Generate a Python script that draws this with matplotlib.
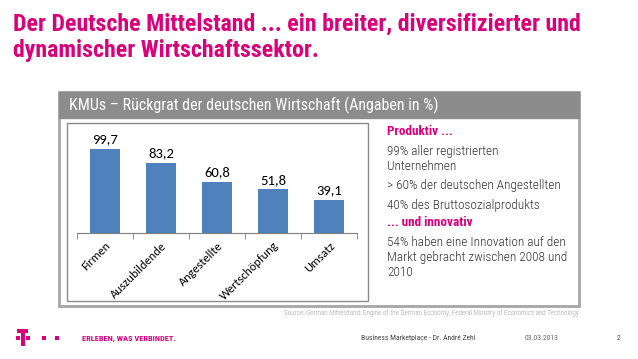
import matplotlib.pyplot as plt
from matplotlib.patches import Rectangle

categories = ['Firmen', 'Auszubildende', 'Angestellte', 'Wertschöpfung', 'Umsatz']
values = [99.7, 83.2, 60.8, 51.8, 39.1]
value_labels = ['99,7', '83,2', '60,8', '51,8', '39,1']

title = 'Der Deutsche Mittelstand ... ein breiter, diversifizierter und\ndynamischer Wirtschaftssektor.'
box_title = 'KMUs – Rückgrat der deutschen Wirtschaft (Angaben in %)'
side_text = [
    ('Produktiv ...', True),
    ('99% aller registrierten', False),
    ('Unternehmen', False),
    ('> 60% der deutschen Angestellten', False),
    ('40% des Bruttosozialprodukts', False),
    ('... und innovativ', True),
    ('54% haben eine Innovation auf den', False),
    ('Markt gebracht zwischen 2008 und', False),
    ('2010', False),
]
side_y = [131, 151, 166, 186, 205, 223, 243, 258, 273]
source = 'Source: German Mittelstand: Engine of the German Economy, Federal Ministry of Economics and Technology'

MAGENTA = '#D9007A'
BLUE = '#4F81BD'
W, H = 638, 359
COND = 'Roboto Condensed'


def fx(x):
    return x / W


def fy(y):
    return 1 - y / H


def box(x0, y0, x1, y1, **kw):
    # rectangle given in pixel coords from top-left
    fig.patches.append(Rectangle((fx(x0), fy(y1)), fx(x1 - x0), (y1 - y0) / H,
                                 transform=fig.transFigure, **kw))


fig = plt.figure(figsize=(6.38, 3.59), dpi=100)

# title
fig.text(fx(13), fy(13), title, color=MAGENTA, fontsize=17.2, fontweight='bold',
         family=COND, va='top', ha='left', linespacing=1.15)

# outer frame + header band
box(59, 92, 579, 306, facecolor='white', edgecolor='#A6A6A6', lw=2, zorder=0)
box(59, 92, 579, 118, facecolor='#8C8C8C', edgecolor='#8C8C8C', lw=1, zorder=0)
fig.text(fx(69), fy(105), box_title, color='white', fontsize=11.5, family=COND, va='center')

# inner chart box
box(67, 123, 368, 301, facecolor='white', edgecolor='#8A8A8A', lw=1, zorder=0)

# bar chart
ax = fig.add_axes([fx(77), fy(233), fx(280), (233 - 130) / H])
ax.set_zorder(2)
x = range(len(categories))
bars = ax.bar(x, values, width=0.53, color=BLUE)
for b, lab in zip(bars, value_labels):
    ax.text(b.get_x() + b.get_width() / 2, b.get_height() + 4, lab, ha='center', va='bottom',
            fontsize=10.5, family='Carlito')
ax.set_xlim(-0.5, 4.5)
ax.set_ylim(0, 122)
ax.set_xticks(list(x))
ax.set_xticklabels(categories, rotation=45, ha='right', rotation_mode='anchor',
                   fontsize=8.8, family='Carlito')
ax.set_xticks([i - 0.5 for i in range(len(categories) + 1)], minor=True)
ax.tick_params(axis='x', which='major', length=0, pad=5)
ax.tick_params(axis='x', which='minor', length=4, color='#7F7F7F')
ax.set_yticks([])
for s in ['top', 'right', 'left']:
    ax.spines[s].set_visible(False)
ax.spines['bottom'].set_color('#7F7F7F')
ax.patch.set_alpha(0)

# side text
for (txt, bold), y in zip(side_text, side_y):
    fig.text(fx(387), fy(y), txt, fontsize=9.5, family=COND, va='center',
             color=MAGENTA if bold else '#333333', fontweight='bold' if bold else 300)

fig.text(fx(579), fy(313), source, fontsize=5, color='#9A9A9A', ha='right', va='center',
         family=COND, fontweight=300)

# footer: logo
box(17, 329, 28, 333, facecolor=MAGENTA, edgecolor='none')
box(20.5, 329, 24.5, 346, facecolor=MAGENTA, edgecolor='none')
for sx in [16, 26, 42, 55]:
    box(sx, 336, sx + 3.5, 339.5, facecolor=MAGENTA, edgecolor='none')
fig.text(fx(82), fy(338), 'ERLEBEN, WAS VERBINDET.', fontsize=6, fontweight='bold', color=MAGENTA,
         va='center', family=COND)
fig.text(fx(361), fy(338), 'Business Marketplace - Dr. André Zehl', fontsize=5.5, color='#444444',
         va='center', family=COND)
fig.text(fx(525), fy(338), '03.03.2013', fontsize=5.5, color='#666666', va='center', family=COND)
fig.text(fx(617), fy(338), '2', fontsize=5.5, color='#444444', va='center', family=COND)

fig.savefig('out.png', dpi=100)
